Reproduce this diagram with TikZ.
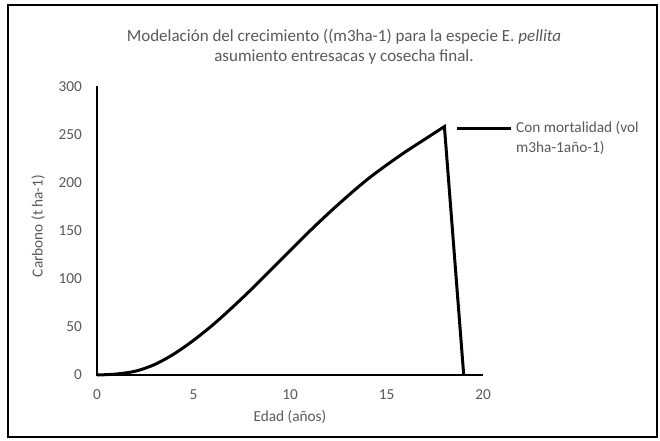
\documentclass[tikz,border=0pt]{standalone}
\usepackage{fontspec}
\setmainfont{Carlito}
\usepackage{tikz}
\usetikzlibrary{positioning}
\definecolor{labelgray}{HTML}{595959}

\tikzset{
  lbl/.style={text=labelgray, font=\fontsize{15.3}{18}\selectfont, inner sep=0pt},
  axisline/.style={black, line width=2.2pt},
  serie/.style={black, line width=3pt, line join=miter}
}

\begin{document}
\begin{tikzpicture}[x=1pt,y=1pt]
\useasboundingbox (0,0) rectangle (660,440);

% chart frame
\draw[line width=2pt] (8,3) rectangle (657,435);

% title
\node[lbl, font=\fontsize{17}{20}\selectfont] (title1) at (344,403) {Modelación del crecimiento ((m3ha-1) para la especie E. \textit{pellita}};
\node[lbl, font=\fontsize{17}{20}\selectfont] (title2) at (344,383) {asumiento entresacas y cosecha final.};

\begin{scope}[shift={(97,65)}, x=19.3pt, y=0.963pt] {
\draw[axisline] (0,300) -- (0,0) -- (20,0);

\foreach \v in {0,50,...,300}
  \node[lbl, anchor=east] (ytick\v) at ([xshift=-15pt]0,\v) {\v};
\foreach \v in {0,5,...,20}
  \node[lbl] (xtick\v) at ([yshift=-20pt]\v,0) {\v};

\draw[serie] plot[smooth, tension=0.5] coordinates {(0,0) (1,1) (2,4) (3,11) (4,22) (5,36) (6,52) (7,70) (8,89) (9,109) (10,129) (11,149) (12,168) (13,186) (14,203) (15,218) (16,232) (17,245) (18,258)} -- (19,0);

}\end{scope}

% axis titles
\node[lbl] (xtitle) at (290,23) {Edad (años)};
\node[lbl, rotate=90] (ytitle) at (38,214) {Carbono (t ha-1)};

% legend
\draw[serie] (457,312) -- (511,312);
\node[lbl, anchor=west, align=left, font=\fontsize{15.3}{20}\selectfont] (leyenda) at (516,302) {Con mortalidad (vol\\m3ha-1año-1)};

\end{tikzpicture}
\end{document}
